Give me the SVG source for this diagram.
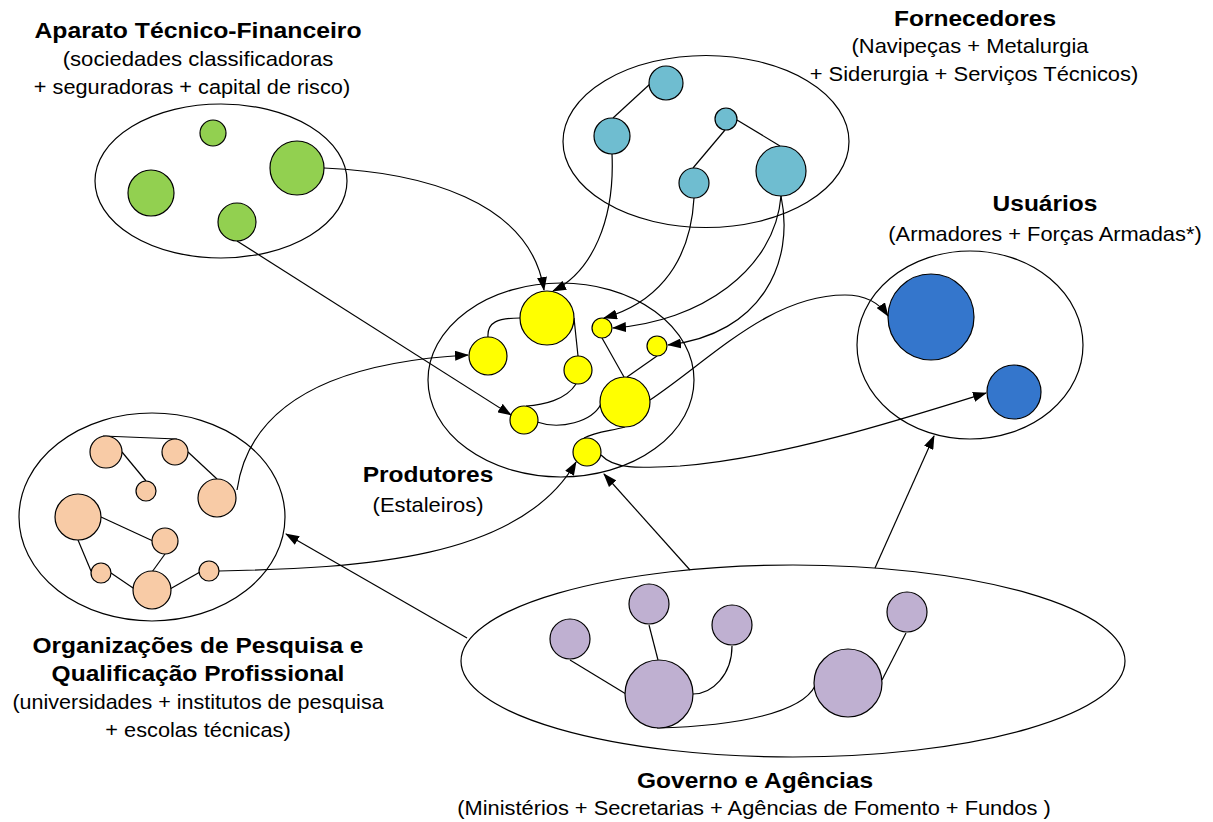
<svg xmlns="http://www.w3.org/2000/svg" width="1213" height="822" viewBox="0 0 1213 822">
<defs>
<marker id="ah" markerUnits="userSpaceOnUse" markerWidth="14" markerHeight="10" refX="13" refY="5" orient="auto">
<path d="M0,0 L14,5 L0,10 Z" fill="#000"/>
</marker>
<style>
.grp{fill:none;stroke:#000;stroke-width:1.2}
.n{stroke:#000;stroke-width:1.2}
.g{fill:#92D050}.s{fill:#6FBDD0}.y{fill:#FFFF00}.p{fill:#F8CBA6}.l{fill:#BFB0D1}.u{fill:#3476CC}
.ln{fill:none;stroke:#000;stroke-width:1.2}
.c{fill:none;stroke:#000;stroke-width:1.2;marker-end:url(#ah)}
.t{font-family:"Liberation Sans",Arial,sans-serif;font-weight:bold;font-size:22.5px;text-anchor:middle;fill:#000}
.st{font-family:"Liberation Sans",Arial,sans-serif;font-size:20.5px;text-anchor:middle;fill:#000}
</style>
</defs>
<rect width="1213" height="822" fill="#fff"/>

<g id="financeiro">
<ellipse class="grp" cx="221" cy="181" rx="126" ry="77"/>
<circle class="n g" cx="213" cy="133" r="13"/>
<circle class="n g" cx="297" cy="168" r="27"/>
<circle class="n g" cx="151" cy="193" r="23"/>
<circle class="n g" cx="237" cy="222" r="19"/>
<text class="t" transform="translate(198,38) scale(1.1,1)">Aparato Técnico-Financeiro</text>
<text class="st" transform="translate(198,66) scale(1.08,1)">(sociedades classificadoras</text>
<text class="st" transform="translate(192,94) scale(1.06,1)">+ seguradoras + capital de risco)</text>
</g>

<g id="fornecedores">
<ellipse class="grp" cx="706" cy="141.5" rx="143" ry="86"/>
<line class="ln" x1="650" y1="84" x2="613" y2="118"/>
<line class="ln" x1="725" y1="130" x2="693" y2="168"/>
<line class="ln" x1="737" y1="120" x2="780" y2="146"/>
<circle class="n s" cx="666" cy="83" r="17"/>
<circle class="n s" cx="612" cy="136" r="18"/>
<circle class="n s" cx="726" cy="119" r="11"/>
<circle class="n s" cx="694" cy="183" r="15"/>
<circle class="n s" cx="781" cy="171" r="25"/>
<text class="t" transform="translate(975,26) scale(1.09,1)">Fornecedores</text>
<text class="st" transform="translate(970,53) scale(1.07,1)">(Navipeças + Metalurgia</text>
<text class="st" transform="translate(974,81) scale(1.07,1)">+ Siderurgia + Serviços Técnicos)</text>
</g>

<g id="usuarios">
<ellipse class="grp" cx="970" cy="345" rx="113" ry="94"/>
<circle class="n u" cx="931" cy="317" r="43"/>
<circle class="n u" cx="1014" cy="392" r="27"/>
<text class="t" transform="translate(1045,211) scale(1.09,1)">Usuários</text>
<text class="st" transform="translate(1045,241) scale(1.065,1)">(Armadores + Forças Armadas*)</text>
</g>

<g id="produtores">
<ellipse class="grp" cx="561" cy="380" rx="133" ry="97"/>
<path class="ln" d="M488,337 C487,322 498,318 520,318"/>
<line class="ln" x1="574" y1="318" x2="578" y2="356"/>
<path class="ln" d="M576,384 C566,400 543,405 526,406"/>
<path class="ln" d="M537,422 C560,430 592,422 601,404"/>
<line class="ln" x1="602" y1="338" x2="624" y2="377"/>
<line class="ln" x1="657" y1="356" x2="627" y2="377"/>
<path class="ln" d="M625,427 C610,431 595,432 584,438"/>
<circle class="n y" cx="547" cy="318" r="27"/>
<circle class="n y" cx="488" cy="356" r="19"/>
<circle class="n y" cx="602" cy="328" r="10"/>
<circle class="n y" cx="657" cy="346" r="10"/>
<circle class="n y" cx="578" cy="370" r="14"/>
<circle class="n y" cx="625" cy="402" r="25"/>
<circle class="n y" cx="524" cy="420" r="14"/>
<circle class="n y" cx="587" cy="452" r="14"/>
<text class="t" transform="translate(428,482) scale(1.09,1)">Produtores</text>
<text class="st" transform="translate(428,512) scale(1.07,1)">(Estaleiros)</text>
</g>

<g id="pesquisa">
<ellipse class="grp" cx="152" cy="517" rx="133" ry="104"/>
<line class="ln" x1="103" y1="436" x2="177" y2="439"/>
<line class="ln" x1="122" y1="452" x2="146" y2="481"/>
<line class="ln" x1="188" y1="452" x2="217" y2="479"/>
<line class="ln" x1="101" y1="517" x2="153" y2="541"/>
<line class="ln" x1="78" y1="540" x2="91" y2="571"/>
<line class="ln" x1="111" y1="573" x2="136" y2="590"/>
<line class="ln" x1="165" y1="554" x2="152" y2="572"/>
<line class="ln" x1="170" y1="589" x2="200" y2="572"/>
<circle class="n p" cx="106" cy="452" r="16"/>
<circle class="n p" cx="175" cy="452" r="13"/>
<circle class="n p" cx="146" cy="491" r="10"/>
<circle class="n p" cx="217" cy="498" r="19"/>
<circle class="n p" cx="78" cy="517" r="23"/>
<circle class="n p" cx="165" cy="541" r="13"/>
<circle class="n p" cx="101" cy="573" r="10"/>
<circle class="n p" cx="152" cy="590" r="19"/>
<circle class="n p" cx="209" cy="571" r="10"/>
<text class="t" transform="translate(198,653) scale(1.09,1)">Organizações de Pesquisa e</text>
<text class="t" transform="translate(198,681) scale(1.09,1)">Qualificação Profissional</text>
<text class="st" transform="translate(198,709) scale(1.05,1)">(universidades + institutos de pesquisa</text>
<text class="st" transform="translate(198,737) scale(1.06,1)">+ escolas técnicas)</text>
</g>

<g id="governo">
<ellipse class="grp" cx="793" cy="661" rx="332" ry="96"/>
<line class="ln" x1="570" y1="660" x2="626" y2="694"/>
<line class="ln" x1="649" y1="625" x2="658" y2="660"/>
<path class="ln" d="M732,646 C732,675 712,694 693,694"/>
<path class="ln" d="M657,728 C740,726 802,712 815,686"/>
<line class="ln" x1="882" y1="680" x2="906" y2="633"/>
<circle class="n l" cx="570" cy="639" r="20"/>
<circle class="n l" cx="649" cy="604" r="20"/>
<circle class="n l" cx="732" cy="625" r="20"/>
<circle class="n l" cx="907" cy="612" r="20"/>
<circle class="n l" cx="659" cy="694" r="34"/>
<circle class="n l" cx="848" cy="683" r="34"/>
<text class="t" transform="translate(755,788) scale(1.09,1)">Governo e Agências</text>
<text class="st" transform="translate(754,815) scale(1.065,1)">(Ministérios + Secretarias + Agências de Fomento + Fundos )</text>
</g>

<g id="connectors">
<path class="c" d="M324,168 C420,172 530,200 544,290"/>
<line class="c" x1="237" y1="241" x2="511" y2="415"/>
<path class="c" d="M612,154 C615,220 592,272 553,291"/>
<path class="c" d="M694,198 C690,270 650,305 604,318"/>
<path class="c" d="M781,196 C775,270 700,322 613,328"/>
<path class="c" d="M781,196 C795,262 762,334 668,345"/>
<path class="c" d="M237,490 C250,400 340,362 468,355"/>
<path class="c" d="M219,571 C360,568 520,560 576,462"/>
<path class="c" d="M650,400 C710,360 770,295 845,295 C868,295 880,304 888,316"/>
<path class="c" d="M601,455 C615,470 640,468 680,466 C780,458 900,420 986,393"/>
<line class="c" x1="690" y1="570" x2="604" y2="474"/>
<line class="c" x1="875" y1="568" x2="934" y2="436"/>
<line class="c" x1="467" y1="638" x2="286" y2="534"/>
</g>
</svg>
